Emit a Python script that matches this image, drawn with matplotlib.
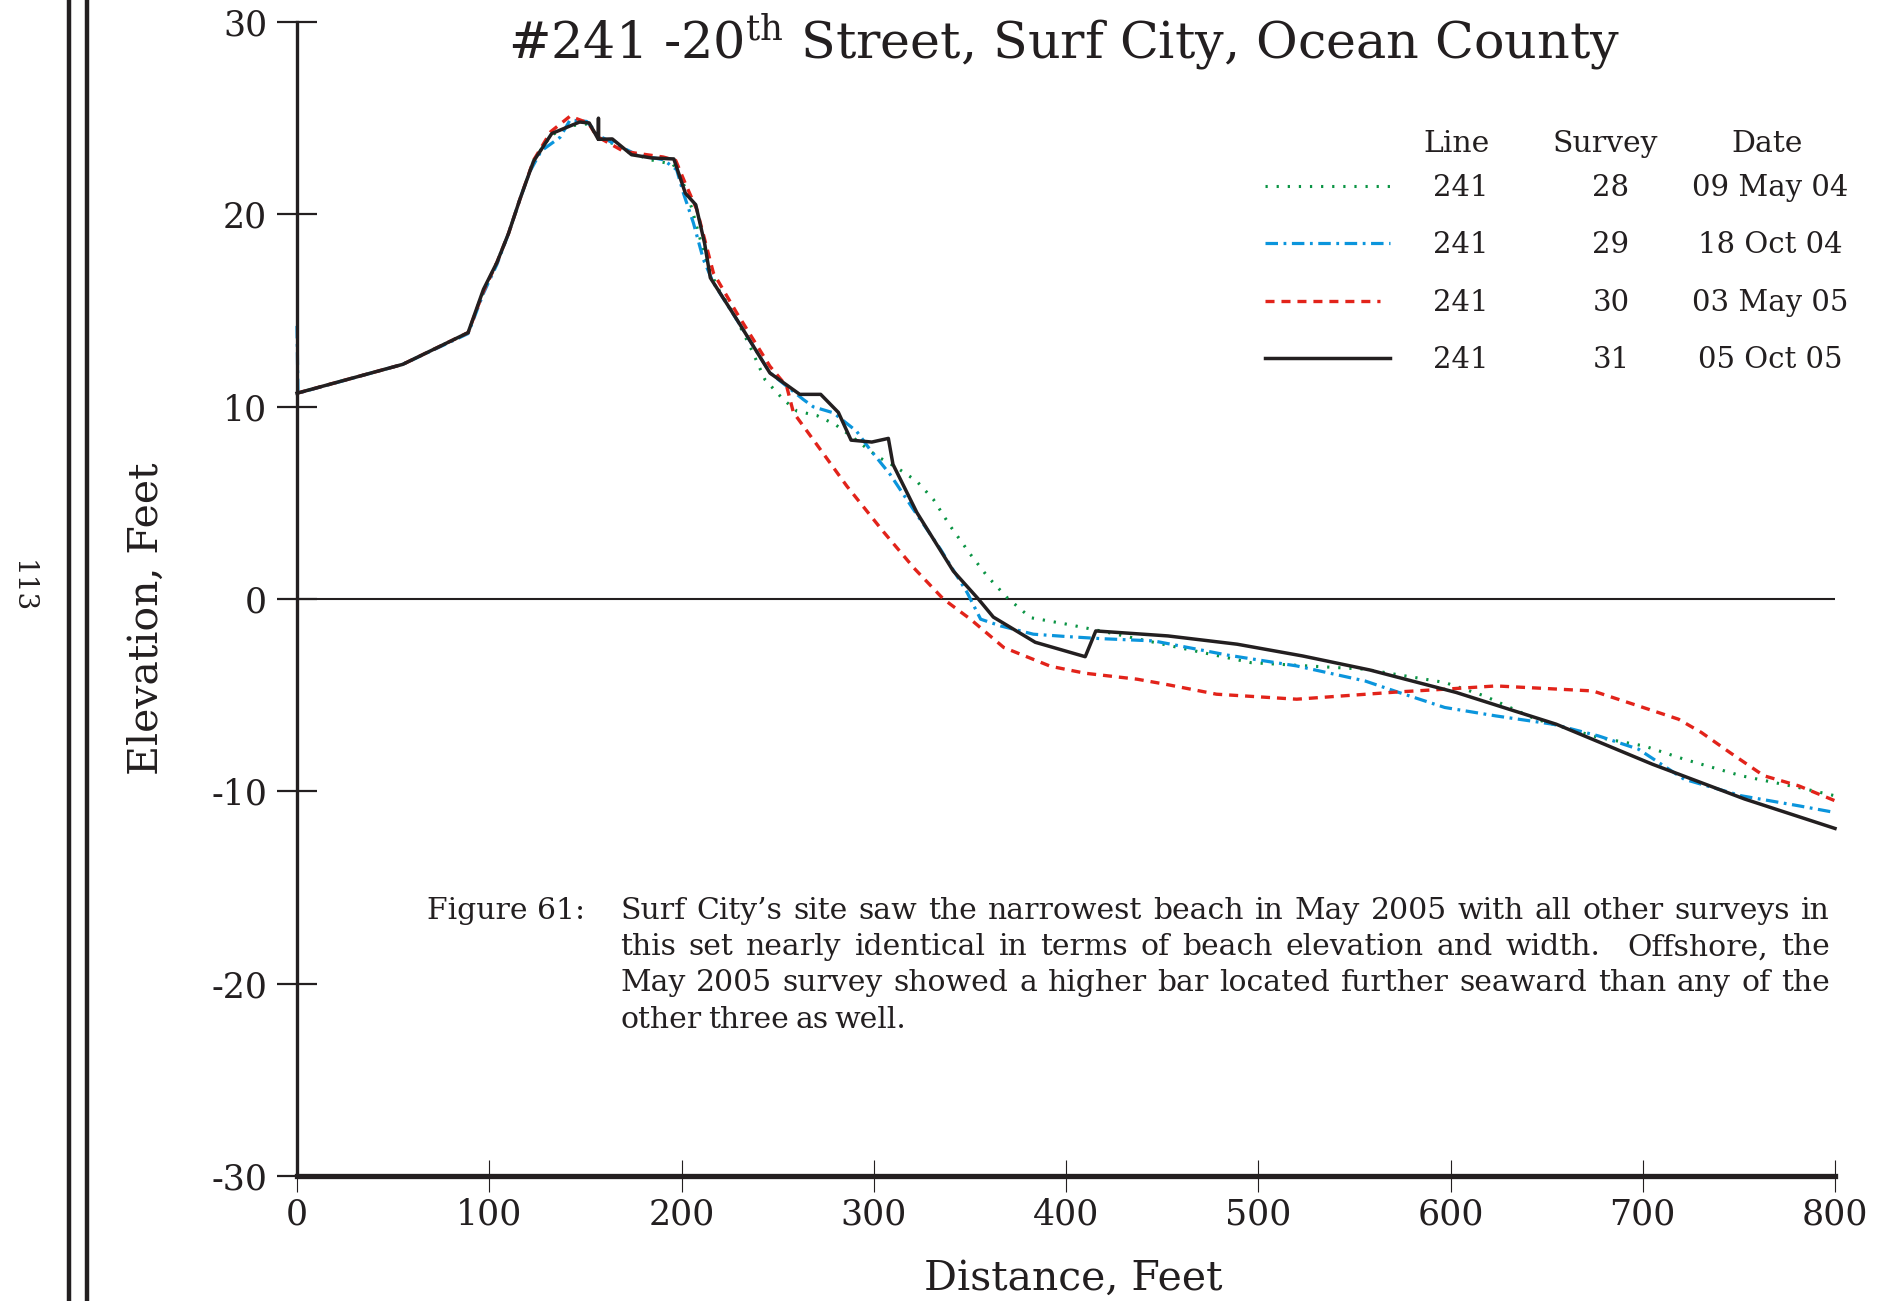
import matplotlib
matplotlib.use('Agg')
import matplotlib.pyplot as plt
from matplotlib.lines import Line2D

plt.rcParams['font.family'] = 'DejaVu Serif'
plt.rcParams['mathtext.fontset'] = 'dejavuserif'
plt.rcParams['lines.scale_dashes'] = False
plt.rcParams['axes.unicode_minus'] = False

# survey 28, 09 May 04
x28 = [0, 55, 89, 97, 104, 110, 116, 123, 132, 142, 151, 157, 166, 176.7, 183.6, 195.7, 201, 205.3,
       212.2, 218.3, 226.9, 235.6, 243.4, 253, 260, 270.4, 280, 289.4, 301.6, 312, 322.3, 331, 339.8,
       350.3, 359, 369.4, 381.5, 400.4, 418, 454.6, 496.2, 555.5, 597, 617.7, 644.4, 677, 700.7, 721.5,
       751.2, 781, 800]
y28 = [10.7, 12.2, 13.85, 16.0, 17.5, 19.0, 20.8, 22.8, 24.1, 24.6, 24.7, 24.0, 23.6, 23.1, 22.84, 22.6,
       21.6, 20.33, 17.8, 16.26, 14.88, 13.14, 11.41, 10.37, 9.77, 9.54, 9.07, 8.38, 7.43, 6.83, 6.13,
       5.18, 3.79, 2.32, 1.19, 0.07, -0.97, -1.31, -1.66, -2.44, -3.31, -3.65, -4.34, -5.04, -6.25,
       -7.2, -7.64, -8.33, -9.19, -9.8, -10.23]

# survey 29, 18 Oct 04
x29 = [0, 0.5, 55, 89, 97, 104, 110, 116, 121, 127, 136.8, 142, 150.7, 157.6, 166.3, 176.7, 190.5, 197.5,
       201, 206.2, 211.4, 216.6, 228.7, 246, 263.4, 268.6, 279, 291, 298, 308.5, 320.6, 334.7, 348.6,
       355.6, 366, 383, 400, 418, 445.7, 484.2, 520, 555.5, 573.2, 597, 623.7, 653.3, 677, 697.8, 721.5,
       751.2, 781, 800]
y29 = [14.2, 10.7, 12.2, 13.8, 15.9, 17.4, 19.0, 20.8, 22.2, 23.3, 24.0, 24.9, 24.83, 24.05, 23.62, 23.1,
       22.84, 22.32, 21.1, 19.55, 17.65, 16.44, 14.53, 11.76, 10.37, 9.99, 9.68, 8.73, 7.78, 6.48, 4.66,
       2.59, 0.33, -1.05, -1.4, -1.83, -1.95, -2.06, -2.18, -2.92, -3.48, -4.26, -4.86, -5.64, -6.08,
       -6.51, -7.12, -7.81, -9.37, -10.23, -10.75, -11.1]

# survey 30, 03 May 05
x30 = [0, 55, 89, 97, 104, 110, 116, 123, 132, 142, 151.5, 156, 170, 190.5, 197, 202, 208, 216.6, 228.7,
       246, 254.7, 258.2, 270.3, 286, 305, 321, 336.2, 350.3, 367.6, 392, 410, 437, 451.6, 478.3, 520,
       543.6, 573, 597, 623.7, 674, 697.8, 718.6, 730.5, 745.3, 763, 781, 800]
y30 = [10.7, 12.2, 13.85, 16.0, 17.5, 19.0, 20.8, 22.8, 24.3, 25.1, 24.75, 24.05, 23.27, 22.98, 22.8,
       21.6, 20.24, 16.95, 14.88, 12.1, 11.06, 9.7, 8.04, 5.87, 3.5, 1.6, 0.0, -1.05, -2.52, -3.5,
       -3.86, -4.17, -4.43, -4.95, -5.21, -5.04, -4.83, -4.69, -4.52, -4.78, -5.56, -6.25, -6.94, -7.98,
       -9.19, -9.71, -10.49]

# survey 31, 05 Oct 05
x31 = [0, 55, 89, 97, 104, 110, 116, 123, 132.5, 147, 152, 156.7, 156.8, 156.9, 164, 174, 184.5, 196,
       202, 207.4, 212, 215, 229, 246, 261.5, 272.4, 281.6, 288.2, 299, 307.6, 310, 322.4, 341.4, 354.4,
       362.2, 384, 410, 415.5, 453, 489, 523, 558, 603, 655, 705, 753, 800]
y31 = [10.7, 12.2, 13.85, 16.1, 17.5, 19.0, 20.8, 22.75, 24.2, 24.8, 24.75, 23.9, 25.0, 23.9, 23.92,
       23.1, 22.93, 22.88, 21.1, 20.5, 18.5, 16.7, 14.5, 11.75, 10.64, 10.64, 9.7, 8.26, 8.16, 8.35, 7.0,
       4.5, 1.45, 0.0, -0.94, -2.25, -3.0, -1.66, -1.92, -2.35, -2.96, -3.69, -4.86, -6.51, -8.59, -10.4,
       -11.93]

lines_no = ['241', '241', '241', '241']
surveys = ['28', '29', '30', '31']
dates = ['09 May 04', '18 Oct 04', '03 May 05', '05 Oct 05']
colors = ['#0a9444', '#0b95dc', '#e2231a', '#231f20']
styles = [(0, (1.6, 6.4)), (0, (9, 4, 2, 4)), (0, (6.5, 5)), '-']
widths = [2.2, 2.3, 2.4, 2.5]

caption = ["Surf City\u2019s site saw the narrowest beach in May 2005 with all other surveys in",
           "this set nearly identical in terms of beach elevation and width. | Offshore, the",
           "May 2005 survey showed a higher bar located further seaward than any of the",
           "other three as well."]

W, H = 1892, 1301
fig = plt.figure(figsize=(W / 100, H / 100), dpi=100)
ax = fig.add_axes([297 / W, 1 - 1176 / H, 1538 / W, 1154 / H])

xs = [x28, x29, x30, x31]
ys = [y28, y29, y30, y31]
for x, y, c, ls, lw in zip(xs, ys, colors, styles, widths):
    ax.plot(x, y, color=c, linestyle=ls, lw=lw, clip_on=False)

ax.axhline(0, color='#231f20', lw=1.5, zorder=1)

ax.set_xlim(0, 800)
ax.set_ylim(-30, 30)
ax.set_xticks(range(0, 801, 100))
ax.set_yticks(range(-30, 31, 10))
for s in ['top', 'right']:
    ax.spines[s].set_visible(False)
ax.spines['left'].set_linewidth(2.4)
ax.spines['bottom'].set_linewidth(3.8)
ax.spines['left'].set_color('#231f20')
ax.spines['bottom'].set_color('#231f20')
ax.tick_params(axis='y', direction='inout', length=29, width=1.6, pad=7, labelsize=25, colors='#231f20')
ax.tick_params(axis='x', direction='inout', length=23, width=0.8, pad=4, labelsize=25, colors='#231f20')

ax.set_xlabel('Distance, Feet', fontsize=29.5, color='#231f20', va='center')
ax.set_ylabel('Elevation, Feet', fontsize=29.5, color='#231f20', va='center')
ax.xaxis.set_label_coords(0.505, -0.089)
ax.yaxis.set_label_coords(-0.0975, 0.483)

fig.text(1064 / W, 1 - 58 / H, r'#241 -20$^{\mathrm{th}}$ Street, Surf City, Ocean County',
         fontsize=36.5, ha='center', va='baseline', color='#231f20')

# legend table
hdr_y = 1 - 152 / H
fig.text(1456 / W, hdr_y, 'Line', fontsize=21.5, ha='center', va='baseline', color='#231f20')
fig.text(1605 / W, hdr_y, 'Survey', fontsize=21.5, ha='center', va='baseline', color='#231f20')
fig.text(1767 / W, hdr_y, 'Date', fontsize=21.5, ha='center', va='baseline', color='#231f20')
row_px = [186, 243, 301, 358]
for i in range(4):
    yb = 1 - (row_px[i] + 10) / H
    yl = 1 - row_px[i] / H
    x_end = 1380 if i == 2 else 1390
    fig.add_artist(Line2D([1265 / W, x_end / W], [yl, yl], color=colors[i], linestyle=styles[i],
                          lw=widths[i], transform=fig.transFigure))
    fig.text(1461 / W, yb, lines_no[i], fontsize=21, ha='center', va='baseline', color='#231f20')
    fig.text(1611 / W, yb, surveys[i], fontsize=21, ha='center', va='baseline', color='#231f20')
    fig.text(1770 / W, yb, dates[i], fontsize=21, ha='center', va='baseline', color='#231f20')

# caption, justified by hand ('|' marks an extra wide gap)
fs = 21.5
fig.text(427 / W, 1 - 919 / H, 'Figure 61:', fontsize=fs, va='baseline', color='#231f20')
r = fig.canvas.get_renderer()
x0, x1 = 620, 1830
for k, line in enumerate(caption):
    yb = 1 - (919 + 36.2 * k) / H
    words = line.split()
    extra = [0] * len(words)
    if '|' in words:
        j = words.index('|')
        words.pop(j)
        extra.pop(j)
        extra[j] = 14
    ts = [fig.text(0, yb, w, fontsize=fs, va='baseline', color='#231f20') for w in words]
    ws = [t.get_window_extent(r).width for t in ts]
    if k < len(caption) - 1:
        gap = (x1 - x0 - sum(ws) - sum(extra)) / (len(words) - 1)
    else:
        gap = fs * 100 / 72 * 0.22
    xp = x0
    for t, w, e in zip(ts, ws, extra):
        xp += e
        t.set_x(xp / W)
        xp += w + gap

# page margin marks
fig.add_artist(Line2D([69 / W, 69 / W], [0, 1], color='#231f20', lw=3.2, transform=fig.transFigure))
fig.add_artist(Line2D([87 / W, 87 / W], [0, 1], color='#231f20', lw=3.2, transform=fig.transFigure))
fig.text(22 / W, 1 - 587 / H, '113', fontsize=20, rotation=270, ha='center', va='center', color='#231f20')

fig.savefig('out.png', dpi=100)
